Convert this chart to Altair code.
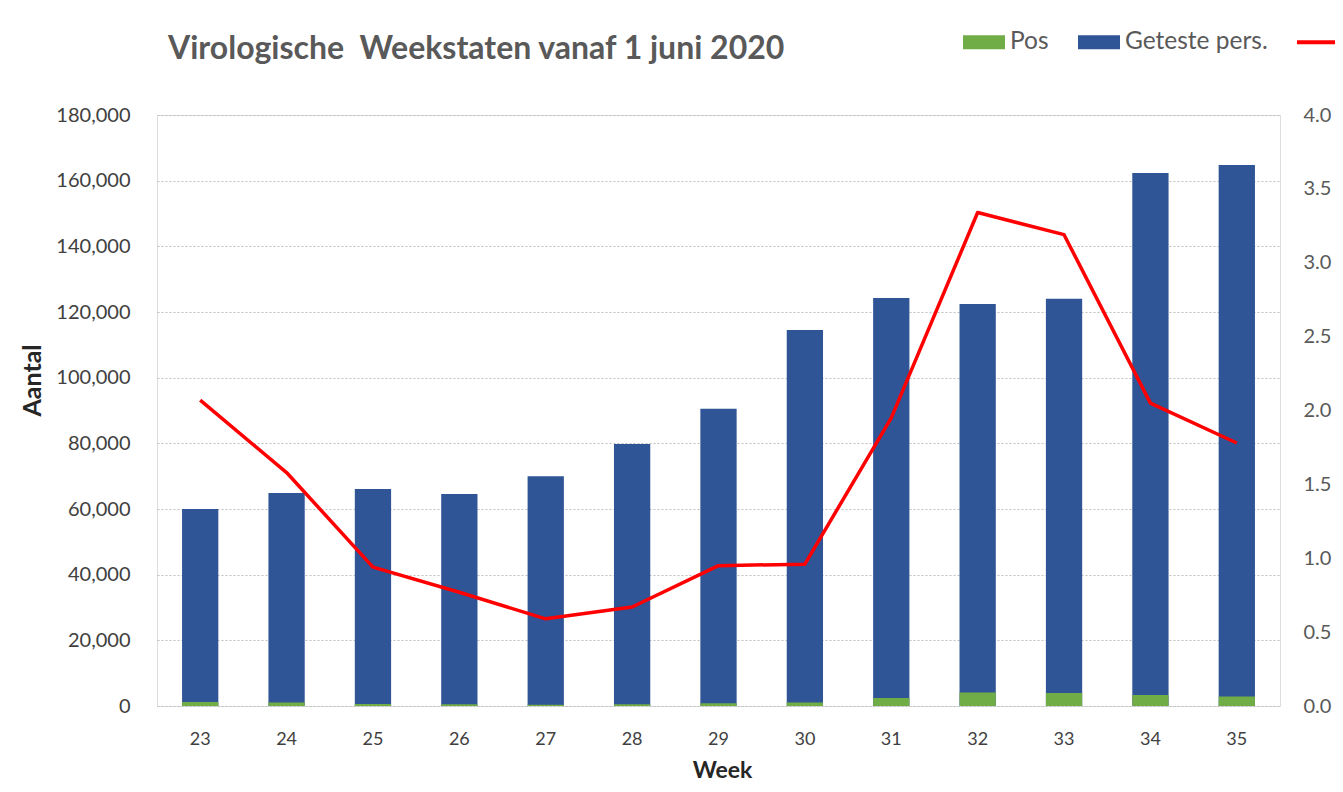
import altair as alt
import pandas as pd

weeks = ["23", "24", "25", "26", "27", "28", "29", "30", "31", "32", "33", "34", "35"]
tested = [60000, 64900, 66100, 64600, 70000, 79800, 90500, 114500, 124300, 122400, 124000, 162300, 164800]
positive = [1240, 1030, 620, 500, 410, 540, 860, 1100, 2420, 4090, 3960, 3330, 2930]
pct_pos = [2.07, 1.58, 0.94, 0.77, 0.59, 0.67, 0.95, 0.96, 1.95, 3.34, 3.19, 2.05, 1.78]

series_names = ["Pos", "Geteste pers.", "% pos."]
series_colors = ["#70AD47", "#2F5597", "#FF0000"]

RECT = "M-1.5,-0.5L1.5,-0.5L1.5,0.5L-1.5,0.5Z"
THIN = "M-1.5,-0.14L1.5,-0.14L1.5,0.14L-1.5,0.14Z"

df_tested = pd.DataFrame({"week": weeks, "value": tested, "series": series_names[1]})
df_pos = pd.DataFrame({"week": weeks, "value": positive, "series": series_names[0]})
df_pct = pd.DataFrame({"week": weeks, "value": pct_pos, "series": series_names[2]})
df_leg = pd.DataFrame({"series": series_names})

FONT = "Lato"
GREY = "#595959"

color_scale = alt.Scale(domain=series_names, range=series_colors)
shape_scale = alt.Scale(domain=series_names, range=[RECT, RECT, THIN])
legend = alt.Legend(
    title=None, orient="none", direction="horizontal", legendX=813, legendY=-87,
    labelFont=FONT, labelFontSize=24.5, labelColor=GREY, columnPadding=29,
    symbolSize=784, symbolStrokeWidth=0, symbolOpacity=1, labelOffset=12,
    labelExpr="datum.label == '% pos.' ? '' : datum.label",
)

x_enc = alt.X("week:O", title="Week", sort=weeks,
              scale=alt.Scale(paddingInner=0.58, paddingOuter=0.29),
              axis=alt.Axis(labelAngle=0, labelFont=FONT, labelFontSize=18, labelColor="#404040",
                            labelPadding=24, titleFont=FONT, titleFontSize=23, titleFontWeight="bold",
                            titleColor="#262626", titleX=565, titleY=64, titleBaseline="middle",
                            domain=False, ticks=False, grid=False))

y_left = alt.Y("value:Q", title="Aantal",
               scale=alt.Scale(domain=[0, 180000]),
               axis=alt.Axis(values=list(range(0, 180001, 20000)), format=",.0f", labelFont=FONT,
                             labelFontSize=20, labelColor="#404040", labelPadding=27,
                             titleFont=FONT, titleFontSize=25, titleFontWeight="bold",
                             titleColor="#262626", titleX=-125, titleY=265, titleBaseline="middle",
                             domain=False, ticks=False,
                             grid=True, gridColor="#BFBFBF", gridDash=[2, 2], gridWidth=1))

color_enc = alt.Color("series:N", scale=color_scale, legend=legend)

bars_tested = alt.Chart(df_tested).mark_bar().encode(x=x_enc, y=y_left, color=color_enc)
bars_pos = alt.Chart(df_pos).mark_bar().encode(x=x_enc, y=y_left, color=color_enc)
bars = alt.layer(bars_tested, bars_pos)

line = alt.Chart(df_pct).mark_line(strokeWidth=3.5, strokeJoin="round").encode(
    x=x_enc,
    y=alt.Y("value:Q", title=None, scale=alt.Scale(domain=[0, 4]),
            axis=alt.Axis(orient="right", values=[0, 0.5, 1, 1.5, 2, 2.5, 3, 3.5, 4], format=".1f",
                          labelFont=FONT, labelFontSize=20, labelColor=GREY, labelPadding=23,
                          domain=False, ticks=False, grid=False)),
    color=color_enc,
)

leg_points = alt.Chart(df_leg).mark_point(filled=True, opacity=0).encode(
    x=alt.value(0), y=alt.value(0),
    color=color_enc,
    shape=alt.Shape("series:N", scale=shape_scale, legend=legend),
)

chart = alt.layer(bars, line, leg_points).resolve_scale(y="independent").properties(
    width=1123, height=591,
    autosize=alt.AutoSizeParams(type="none"),
    padding={"left": 149, "top": 107, "right": 55, "bottom": 78},
    title=alt.TitleParams("Virologische \u00a0Weekstaten vanaf 1 juni 2020", anchor="start", frame="group",
                          dx=11, offset=0, dy=38, font=FONT, fontSize=32, fontWeight="bold", color=GREY),
).configure_view(stroke=None).configure(background="#FFFFFF")

chart.save("out.html", embed_options={"renderer": "svg", "actions": False})
